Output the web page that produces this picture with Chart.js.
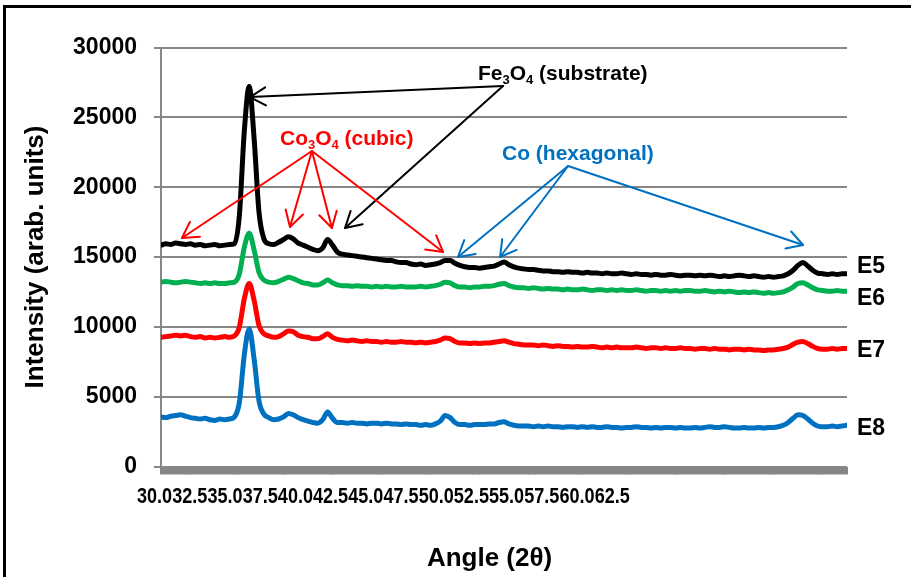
<!DOCTYPE html>
<html>
<head>
<meta charset="utf-8">
<script src="https://cdn.jsdelivr.net/npm/chart.js@4.4.1/dist/chart.umd.min.js"></script>
<style>
html,body{margin:0;padding:0;background:#fff;overflow:hidden;}
#wrap{position:relative;width:911px;height:577px;}
canvas{position:absolute;left:0;top:0;}
#frame{position:absolute;left:3px;top:5px;width:1000px;height:1000px;border-left:3px solid #000;border-top:3px solid #000;pointer-events:none;}
</style>
</head>
<body>
<div id="wrap"><canvas id="c" width="911" height="577"></canvas><div id="frame"></div></div>
<script>
// ---- categories (2θ, degrees) ----
const angleStart = 30.0;
const angleStep = 0.25;

// ---- series (intensity, arb. units) ----
const seriesNames = ['E5', 'E6', 'E7', 'E8'];
const E5 = [15850,15950,15900,16000,15950,15900,15950,15850,15900,15800,15850,15900,15800,15850,15900,
  15950,18000,24000,27200,23500,18200,16300,
  15950,15900,16050,16250,16450,16300,16000,15850,15700,15550,15450,15650,16250,15850,15350,15200,
  15150,15100,15050,15000,14950,14900,14850,14800,14750,14750,14650,14600,14600,14500,14450,14500,14400,14450,14500,14600,
  14750,14750,14550,14400,14300,14250,14250,14200,14250,14300,14350,14500,14650,14450,14300,14200,14150,14100,14100,14050,
  14000,14000,13950,13950,13900,13950,13900,13900,13850,13900,13850,13850,13800,13850,13800,13800,13850,13800,13750,13800,
  13750,13750,13700,13750,13700,13700,13750,13700,13650,13700,13700,13650,13700,13650,13700,13650,13600,13650,13600,13650,
  13700,13650,13600,13650,13600,13550,13600,13550,13600,13650,13800,14050,14400,14600,14350,14050,13850,13800,13750,13800,13750,13800,13800];
const E6 = [13200,13250,13200,13150,13200,13250,13200,13150,13100,13150,13100,13150,13100,13100,13150,
  13200,13800,15700,16700,15500,13900,13350,
  13200,13150,13250,13400,13550,13450,13300,13150,13100,13000,13000,13150,13350,13150,13000,12950,
  12950,12900,12950,12900,12900,12850,12900,12850,12900,12850,12850,12900,12850,12850,12850,12900,12850,12900,12950,13050,
  13200,13150,12950,12850,12850,12800,12850,12850,12900,12900,12950,13050,13100,12950,12850,12800,12800,12750,12800,12750,
  12700,12750,12700,12700,12650,12700,12650,12650,12700,12650,12600,12650,12650,12600,12650,12600,12650,12600,12600,12650,
  12600,12550,12600,12600,12550,12600,12550,12600,12550,12600,12600,12550,12550,12600,12550,12500,12550,12500,12550,12500,
  12450,12500,12450,12500,12450,12400,12450,12400,12450,12500,12650,12850,13100,13150,13000,12800,12650,12600,12550,12550,12600,12550,12550];
const E7 = [9250,9300,9350,9400,9350,9400,9300,9250,9300,9200,9250,9200,9250,9300,9250,
  9350,10000,12000,13100,11900,10100,9500,
  9350,9250,9300,9500,9700,9650,9400,9300,9250,9150,9150,9300,9500,9250,9100,9050,
  9000,9050,9000,8950,9000,8950,8950,8900,8950,8900,8900,8950,8900,8900,8850,8900,8850,8900,8950,9050,
  9200,9150,8950,8850,8850,8800,8850,8800,8850,8850,8900,8950,9000,8900,8800,8750,8700,8700,8700,8650,
  8700,8650,8600,8650,8600,8600,8550,8600,8550,8550,8600,8550,8500,8550,8500,8550,8500,8500,8500,8550,
  8500,8450,8500,8500,8450,8500,8450,8450,8500,8450,8450,8400,8450,8450,8400,8450,8400,8400,8350,8400,
  8400,8350,8400,8350,8350,8300,8350,8350,8400,8450,8550,8750,8900,8950,8800,8600,8450,8400,8400,8450,8400,8450,8450];
const E8 = [3550,3500,3600,3650,3700,3600,3500,3450,3400,3450,3350,3300,3400,3350,3400,
  3550,4600,8000,9850,7700,4700,3750,
  3500,3350,3400,3550,3800,3700,3500,3350,3250,3150,3100,3350,3900,3450,3150,3150,
  3100,3150,3100,3100,3050,3100,3100,3050,3100,3050,3050,3000,3050,3000,3000,2950,3000,2950,3050,3250,
  3650,3500,3150,3000,3000,2950,3000,3000,3000,3050,3050,3150,3200,3050,2950,2900,2900,2900,2850,2900,
  2850,2900,2850,2850,2800,2850,2850,2800,2850,2800,2850,2800,2800,2850,2800,2800,2750,2800,2800,2850,
  2800,2800,2750,2800,2750,2800,2800,2750,2800,2750,2750,2800,2750,2800,2850,2800,2800,2850,2800,2750,
  2750,2800,2750,2750,2800,2750,2800,2800,2850,2950,3150,3450,3700,3650,3400,3100,2900,2850,2850,2900,2850,2900,2950];

// ---- tick labels ----
const xTickLabels = ['30.0','32.5','35.0','37.5','40.0','42.5','45.0','47.5','50.0','52.5','55.0','57.5','60.0','62.5'];
const yTickValues = [0, 5000, 10000, 15000, 20000, 25000, 30000];

// ---- annotations (text runs, [angle, intensity] anchors) ----
const annotations = [
  { runs: [['Fe',0],['3',1],['O',0],['4',1],[' (substrate)',0]], color: '#000000',
    textAt: [46.17, 27672], from: [47.45, 27240], to: [[34.54, 26450], [39.39, 17075]] },
  { runs: [['Co',0],['3',1],['O',0],['4',1],[' (cubic)',0]], color: '#FF0000',
    textAt: [36.07, 23018], from: [37.70, 22590], to: [[31.07, 16360], [36.58, 17150], [38.72, 17075], [44.39, 15360]] },
  { runs: [['Co (hexagonal)',0]], color: '#0070C0',
    textAt: [47.40, 21945], from: [50.77, 21515], to: [[45.15, 15000], [47.30, 15000], [62.76, 15860]] }
];

// ---- styles ----
const seriesColors = ['#000000', '#00B050', '#FF0000', '#0070C0'];
const endLabelOffsets = [-7, 7, 2, 3];
const FAMILY = "'Liberation Sans', Arial, sans-serif";
const X_TICK_CONDENSE = 0.82;

const angles = E5.map((_, i) => angleStart + i * angleStep);
const seriesValues = [E5, E6, E7, E8];

const annotationPlugin = {
  id: 'arrowNotes',
  afterDatasetsDraw(chart) {
    const { ctx } = chart;
    const xs = chart.scales.x, ys = chart.scales.y;
    const L = 18, HA = Math.PI / 6;
    ctx.save();
    for (const a of annotations) {
      const ox = xs.getPixelForValue(a.from[0]), oy = ys.getPixelForValue(a.from[1]);
      ctx.strokeStyle = a.color;
      ctx.lineWidth = 2;
      ctx.lineCap = 'round';
      ctx.lineJoin = 'round';
      for (const t of a.to) {
        const tx = xs.getPixelForValue(t[0]), ty = ys.getPixelForValue(t[1]);
        ctx.beginPath(); ctx.moveTo(ox, oy); ctx.lineTo(tx, ty); ctx.stroke();
        const ang = Math.atan2(oy - ty, ox - tx);
        ctx.beginPath();
        ctx.moveTo(tx + L * Math.cos(ang + HA), ty + L * Math.sin(ang + HA));
        ctx.lineTo(tx, ty);
        ctx.lineTo(tx + L * Math.cos(ang - HA), ty + L * Math.sin(ang - HA));
        ctx.stroke();
      }
      let px = xs.getPixelForValue(a.textAt[0]);
      const py = ys.getPixelForValue(a.textAt[1]);
      ctx.fillStyle = a.color;
      ctx.textAlign = 'left';
      ctx.textBaseline = 'alphabetic';
      for (const [s, sub] of a.runs) {
        ctx.font = sub ? 'bold 13px ' + FAMILY : 'bold 21px ' + FAMILY;
        ctx.fillText(s, px, py + (sub ? 4 : 0));
        px += ctx.measureText(s).width;
      }
    }
    ctx.restore();
  }
};

const endLabelPlugin = {
  id: 'endLabels',
  afterDatasetsDraw(chart) {
    const { ctx } = chart;
    ctx.save();
    ctx.font = 'bold 23px ' + FAMILY;
    ctx.fillStyle = '#000';
    ctx.textAlign = 'left';
    ctx.textBaseline = 'middle';
    chart.data.datasets.forEach((ds, k) => {
      const meta = chart.getDatasetMeta(k);
      const pt = meta.data[meta.data.length - 1];
      ctx.fillText(ds.label, pt.x + 10, pt.y + endLabelOffsets[k]);
    });
    ctx.restore();
  }
};

// condensed rendering of the crowded angle tick labels (Chart.js label items, narrower glyphs)
const condensedTicksPlugin = {
  id: 'condensedTicks',
  afterUpdate(chart) {
    const s = chart.scales.x2;
    if (!s) return;
    s.drawLabels = function (chartArea) {
      const ctx = this.ctx;
      const items = this.getLabelItems(chartArea);
      ctx.save();
      for (const item of items) {
        const o = item.options;
        ctx.save();
        ctx.translate(o.translation[0], o.translation[1]);
        ctx.scale(X_TICK_CONDENSE, 1);
        ctx.font = item.font.string;
        ctx.fillStyle = o.color;
        ctx.textAlign = o.textAlign;
        ctx.textBaseline = o.textBaseline;
        ctx.fillText(item.label, 0, item.textOffset);
        ctx.restore();
      }
      ctx.restore();
    };
  }
};

Chart.defaults.font.family = FAMILY;
Chart.defaults.font.weight = 'bold';
Chart.defaults.color = '#000';

new Chart(document.getElementById('c'), {
  type: 'line',
  data: {
    datasets: seriesNames.map((name, k) => ({
      label: name,
      data: angles.map((a, i) => ({ x: a, y: seriesValues[k][i] })),
      borderColor: seriesColors[k],
      backgroundColor: seriesColors[k],
      borderWidth: 5,
      pointRadius: 0,
      fill: false,
      cubicInterpolationMode: 'monotone',
      borderJoinStyle: 'round',
      borderCapStyle: 'round',
      order: seriesNames.length - k
    }))
  },
  options: {
    responsive: false,
    animation: false,
    devicePixelRatio: 1,
    layout: { padding: { top: 47.5, right: 64, left: 0, bottom: 0 } },
    plugins: { legend: { display: false }, tooltip: { enabled: false } },
    scales: {
      x: {
        type: 'linear', position: 'bottom', weight: 0,
        min: angleStart, max: angles[angles.length - 1],
        grid: { display: true, drawOnChartArea: false, drawTicks: true, tickLength: 8, color: '#868686', lineWidth: 2 },
        border: { display: false },
        ticks: { display: false, stepSize: 0.1 }
      },
      x2: {
        type: 'linear', position: 'bottom', weight: 1,
        min: 30.4545, max: 79.177,
        grid: { display: false, drawTicks: false },
        border: { display: false },
        afterBuildTicks: (s) => { s.ticks = xTickLabels.map(l => ({ value: parseFloat(l) })); },
        ticks: {
          autoSkip: false, maxRotation: 0, minRotation: 0, padding: 9, color: '#000',
          font: { family: FAMILY, size: 22, weight: 'bold' },
          callback: (v, i) => xTickLabels[i]
        },
        title: { display: true, text: 'Angle (2θ)    ', color: '#000', font: { size: 26, weight: 'bold' }, padding: { top: 0, bottom: 3 } },
        afterFit: (s) => { s.height = 102.5; }
      },
      y: {
        type: 'linear', position: 'left',
        min: yTickValues[0], max: yTickValues[yTickValues.length - 1],
        afterBuildTicks: (s) => { s.ticks = yTickValues.map(v => ({ value: v })); },
        ticks: { padding: 17, color: '#000', font: { size: 23, weight: 'bold' }, callback: (v) => String(v) },
        grid: { color: '#878787', lineWidth: 2, tickLength: 7 },
        border: { display: true, color: '#878787', width: 2 },
        title: { display: true, text: 'Intensity (arab. units)', color: '#000', font: { size: 26, weight: 'bold' }, padding: { top: 20.4, bottom: 0 } },
        afterFit: (s) => { s.width = 161; }
      }
    }
  },
  plugins: [annotationPlugin, endLabelPlugin, condensedTicksPlugin]
});
</script>
</body>
</html>
